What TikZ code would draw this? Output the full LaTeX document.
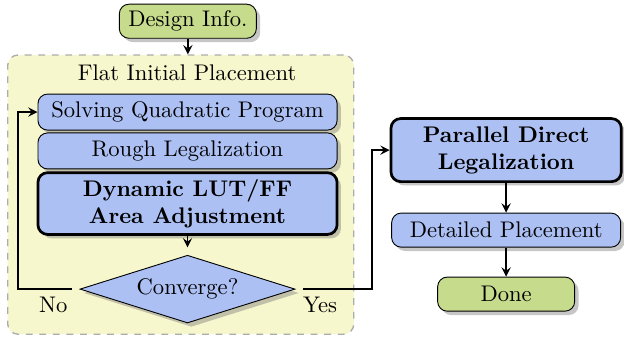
\documentclass[tikz,border=0pt]{standalone}
\usetikzlibrary{positioning,shapes.geometric,shadows,arrows}

\definecolor{stepblue}{RGB}{172,192,244}
\definecolor{termgreen}{RGB}{198,219,140}
\definecolor{flatyellow}{RGB}{247,247,205}

\tikzset{
  boxshadow/.style={drop shadow={shadow xshift=.06cm, shadow yshift=-.06cm, opacity=.45}},
  stepbox/.style={draw, rounded corners=.15cm, fill=stepblue, boxshadow,
    minimum width=4.65cm, minimum height=.56cm, inner sep=2pt, align=center},
  bigstep/.style={stepbox, very thick, font=\bfseries},
  termbox/.style={draw, rounded corners=.15cm, fill=termgreen, boxshadow,
    minimum width=2.13cm, minimum height=.53cm, inner sep=2pt},
  decide/.style={draw, diamond, fill=stepblue, boxshadow, aspect=3,
    minimum width=3.41cm, minimum height=1.12cm, inner sep=1pt, outer sep=2.5pt},
  flatbox/.style={draw=gray!65, dashed, semithick, fill=flatyellow, rounded corners=.16cm},
  arrow/.style={thick, -stealth}
}

\begin{document}
\begin{tikzpicture}
  \useasboundingbox (0,0) rectangle (9.70,-5.27);

  % flat initial placement frame
  \node[flatbox, minimum width=5.38cm, minimum height=4.34cm] (flat) at (2.81,-3.025) {};
  \node (flattitle) at (2.91,-1.135) {Flat Initial Placement};

  \node[termbox] (info) at (2.92,-.33) {Design Info.};

  \node[stepbox] (sqp) at (2.915,-1.742) {Solving Quadratic Program};
  \node[stepbox, below=.03cm of sqp] (rough) {Rough Legalization};
  \node[bigstep, below=.03cm of rough, minimum height=.96cm] (dyn)
    {Dynamic LUT/FF\\Area Adjustment};
  \node[decide] (conv) at (2.915,-4.494) {Converge?};
  \node[below left=0cm and -.05cm of conv.west] (nolabel) {No};
  \node[below right=0cm and -.12cm of conv.east] (yeslabel) {Yes};

  \node[bigstep, minimum width=3.58cm, minimum height=.98cm] (pdl) at (7.868,-2.333)
    {Parallel Direct\\Legalization};
  \node[stepbox, minimum width=3.56cm, minimum height=.53cm] (detail) at (7.868,-3.577)
    {Detailed Placement};
  \node[termbox] (done) at (7.868,-4.572) {Done};

  \coordinate (noturn) at (.28,0);
  \coordinate (yesturn) at (5.785,0);

  \draw[arrow] (info) -- (info |- flat.north);
  \draw[arrow] (dyn) -- (conv);
  \draw[arrow] (conv.west) -- (conv.west -| noturn) |- (sqp.west);
  \draw[arrow] (conv.east) -- (conv.east -| yesturn) |- (pdl.west);
  \draw[arrow] (pdl) -- (detail);
  \draw[arrow] (detail) -- (done);
\end{tikzpicture}
\end{document}
